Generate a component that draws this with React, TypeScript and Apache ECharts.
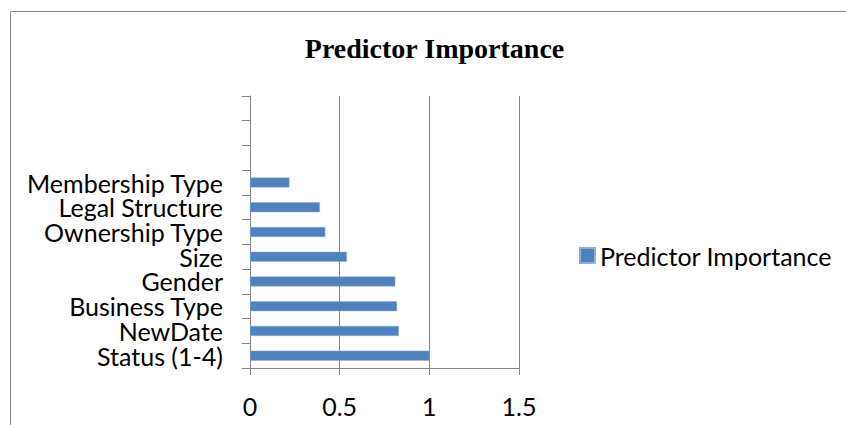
import React, { useEffect, useRef } from "react";
import * as echarts from "echarts";

// Predictor importance per field (bottom to top on the category axis)
const categories = [
  "Status (1-4)",
  "NewDate",
  "Business Type",
  "Gender",
  "Size",
  "Ownership Type",
  "Legal Structure",
  "Membership Type",
];
const importance = [1.0, 0.83, 0.82, 0.81, 0.54, 0.42, 0.39, 0.22];
// three unused slots above the last field
const emptySlots = ["", " ", "  "];

const xMin = 0;
const xMax = 1.5;
const xStep = 0.5;

const seriesName = "Predictor Importance";
const chartTitle = "Predictor Importance";

const BAR = "#4F81BD";
const AXIS = "#868686";
const FONT = 'Lato, "Open Sans", sans-serif';

export default function App() {
  const ref = useRef<HTMLDivElement>(null);

  useEffect(() => {
    if (!ref.current) return;
    const chart = echarts.init(ref.current, undefined, { renderer: "svg" });
    chart.setOption({
      animation: false,
      backgroundColor: "#ffffff",
      graphic: [
        {
          type: "line",
          shape: { x1: 10.5, y1: 11.5, x2: 846, y2: 11.5 },
          style: { stroke: "#8a8a8a", lineWidth: 1 },
        },
        {
          type: "line",
          shape: { x1: 10.5, y1: 11.5, x2: 10.5, y2: 425 },
          style: { stroke: "#8a8a8a", lineWidth: 1 },
        },
        {
          type: "text",
          x: 434.5,
          y: 48,
          style: {
            text: chartTitle,
            font: 'bold 28px "Liberation Serif", "Times New Roman", serif',
            fill: "#000000",
            textAlign: "center",
            textVerticalAlign: "middle",
          },
        },
      ],
      legend: {
        data: [seriesName],
        left: 574,
        top: 238,
        padding: 5,
        icon: "rect",
        itemWidth: 15,
        itemHeight: 15,
        textStyle: { fontFamily: FONT, fontSize: 25, color: "#000000", lineHeight: 24 },
      },
      grid: { left: 250, right: 327, top: 96, bottom: 57, containLabel: false },
      xAxis: {
        type: "value",
        min: xMin,
        max: xMax,
        interval: xStep,
        axisLine: { show: true, lineStyle: { color: AXIS, width: 1 } },
        axisTick: { show: true, length: 7, lineStyle: { color: AXIS } },
        splitLine: { show: true, lineStyle: { color: AXIS, width: 1 } },
        axisLabel: { fontFamily: FONT, fontSize: 25, color: "#000000", margin: 26, lineHeight: 24 },
      },
      yAxis: {
        type: "category",
        data: [...categories, ...emptySlots],
        axisLine: { show: true, lineStyle: { color: AXIS, width: 1 } },
        axisTick: { show: true, length: 8, interval: 0, alignWithLabel: false, lineStyle: { color: AXIS } },
        axisLabel: { fontFamily: FONT, fontSize: 25, color: "#000000", margin: 27, interval: 0, lineHeight: 22 },
        splitLine: { show: false },
      },
      series: [
        {
          name: seriesName,
          type: "bar",
          data: importance,
          barWidth: 10,
          itemStyle: { color: BAR, borderColor: "#8FAEDB", borderWidth: 0.5 },
        },
      ],
    });
    return () => chart.dispose();
  }, []);

  return (
    <div
      ref={ref}
      style={{ position: "absolute", left: 0, top: 0, width: 846, height: 425 }}
    />
  );
}
